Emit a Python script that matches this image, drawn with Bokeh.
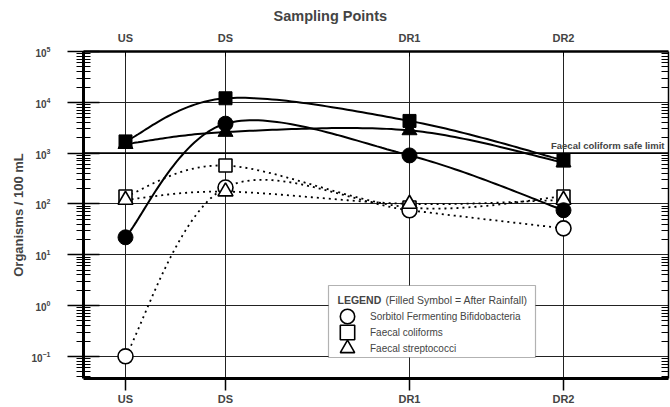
import numpy as np
from bokeh.plotting import figure
from bokeh.models import (Range1d, FixedTicker, LinearAxis, LogAxis, CustomJSTickFormatter,
                          LogTickFormatter, Legend, LegendItem, Label, BoxAnnotation, Span)
from bokeh.embed import file_html
from bokeh.resources import INLINE

# ---------------- data ----------------
sites = ["US", "DS", "DR1", "DR2"]
site_pos = [0.0, 1.0, 2.84, 4.38]          # relative distance along the river

# open symbols = before rainfall, filled symbols = after rainfall
sfb_before = [0.1, 210, 75, 33]             # Sorbitol Fermenting Bifidobacteria
sfb_after = [22, 3800, 900, 75]
fc_before = [140, 570, 85, 140]             # Faecal coliforms
fc_after = [1700, 12000, 4300, 720]
fs_before = [120, 175, 100, 120]            # Faecal streptococci
fs_after = [1500, 2600, 2800, 650]

safe_limit = 1000
safe_label = "Faecal coliform safe limit"

y_major = [10.0 ** e for e in range(-1, 6)]
y_minor = [m * 10.0 ** e for e in range(-2, 5) for m in range(2, 10)]

FONT = "Liberation Sans"


def smooth(values, n=40):
    """Catmull-Rom style smoothing (Bezier) through the points in log space."""
    P = np.column_stack([np.asarray(site_pos, float), np.log10(values)])
    k = len(P)
    t = np.linspace(0, 1, n)[:, None]
    out = []
    for i in range(k - 1):
        p0 = P[max(i - 1, 0)]
        p1 = P[i]
        p2 = P[i + 1]
        p3 = P[min(i + 2, k - 1)]
        c1 = p1 + (p2 - p0) / 6
        c2 = p2 - (p3 - p1) / 6
        seg = ((1 - t) ** 3) * p1 + 3 * ((1 - t) ** 2) * t * c1 + 3 * (1 - t) * (t ** 2) * c2 + (t ** 3) * p2
        out.append(seg if i == 0 else seg[1:])
    pts = np.vstack(out)
    return pts[:, 0], 10 ** pts[:, 1]


p = figure(width=670, height=407, output_backend="svg", toolbar_location=None,
           y_axis_type="log",
           x_range=Range1d(-0.42, 5.43), y_range=Range1d(0.0366, 1e5),
           min_border_left=83, min_border_right=2, min_border_top=51, min_border_bottom=29)
p.outline_line_color = None
p.background_fill_color = "white"

# title
p.title.text = "Sampling Points"
p.title.align = "left"
p.title.offset = 190
p.title.standoff = 9
p.title.text_font = FONT
p.title.text_font_size = "14.5px"
p.title.text_font_style = "bold"

site_fmt = CustomJSTickFormatter(args=dict(pos=site_pos, names=sites),
                                 code="const i = pos.indexOf(tick); return i >= 0 ? names[i] : '';")

# bottom axis
xa = p.xaxis[0]
xa.ticker = FixedTicker(ticks=site_pos)
xa.formatter = site_fmt
xa.axis_line_width = 3
xa.major_tick_out = 12
xa.major_tick_in = 0
xa.major_tick_line_width = 1.5
xa.minor_tick_line_color = None
xa.major_label_standoff = 2
xa.axis_label_standoff = 0
xa.major_label_text_font = FONT
xa.major_label_text_font_style = "bold"
xa.major_label_text_font_size = "11px"

# top axis
top = LinearAxis(ticker=FixedTicker(ticks=site_pos), formatter=site_fmt)
top.axis_line_width = 2.5
top.major_tick_out = 0
top.major_tick_in = 5
top.minor_tick_line_color = None
top.major_label_standoff = 8
top.axis_label_standoff = 0
top.major_label_text_font = FONT
top.major_label_text_font_style = "bold"
top.major_label_text_font_size = "11px"
p.add_layout(top, "above")

# left axis
ya = p.yaxis[0]
ya.ticker = FixedTicker(ticks=y_major, minor_ticks=y_minor)
ya.formatter = LogTickFormatter()
ya.axis_line_width = 3
ya.major_tick_out = 16
ya.major_tick_in = 16
ya.major_tick_line_width = 1.5
ya.minor_tick_out = 7
ya.minor_tick_in = 7
ya.minor_tick_line_width = 1.2
ya.major_label_standoff = 17
ya.major_label_text_font = FONT
ya.major_label_text_font_style = "bold"
ya.major_label_text_font_size = "10px"
ya.axis_label = "Organisms / 100 mL"
ya.axis_label_text_font = FONT
ya.axis_label_text_font_style = "bold"
ya.axis_label_text_font_size = "13px"
ya.axis_label_standoff = 2

# right axis (ticks only)
ra = LogAxis(ticker=FixedTicker(ticks=y_major, minor_ticks=y_minor),
             formatter=CustomJSTickFormatter(code="return '';"))
ra.axis_line_width = 1.5
ra.major_tick_out = 0
ra.major_tick_in = 0
ra.minor_tick_out = 0
ra.minor_tick_in = 7
ra.minor_tick_line_width = 1.2
ra.major_label_standoff = 0
ra.axis_label_standoff = 0
ra.major_label_text_font_size = "1px"
p.add_layout(ra, "right")

# grids
p.xgrid.ticker = FixedTicker(ticks=site_pos)
p.xgrid.grid_line_color = "#222222"
p.xgrid.grid_line_width = 1
p.ygrid.ticker = FixedTicker(ticks=y_major)
p.ygrid.grid_line_color = "#222222"
p.ygrid.grid_line_width = 1.2

# safe limit
p.add_layout(Span(location=safe_limit, dimension="width", line_color="black", line_width=1.8))
p.add_layout(Label(x=5.43, y=safe_limit, text=safe_label, text_align="right", text_baseline="bottom",
                   x_offset=-4, y_offset=2, text_font=FONT, text_font_style="bold",
                   text_font_size="9.5px"))

# curves
for vals in (sfb_before, fc_before, fs_before):
    xs, ys = smooth(vals)
    p.line(xs, ys, line_color="black", line_width=1.8, line_dash="2 4")
for vals in (sfb_after, fc_after, fs_after):
    xs, ys = smooth(vals)
    p.line(xs, ys, line_color="black", line_width=2)

# open markers (before rainfall)
r_fc_o = p.scatter(site_pos, fc_before, marker="square", size=13, fill_color="white",
                   line_color="black", line_width=1.6)
r_sfb_o = p.scatter(site_pos, sfb_before, marker="circle", size=15, fill_color="white",
                    line_color="black", line_width=1.6)
r_fs_o = p.scatter(site_pos, fs_before, marker="triangle", size=15, fill_color="white",
                   line_color="black", line_width=1.6)
# filled markers (after rainfall)
p.scatter(site_pos, fs_after, marker="triangle", size=15, fill_color="black", line_color="black")
p.scatter(site_pos, sfb_after, marker="circle", size=15, fill_color="black", line_color="black")
p.scatter(site_pos, fc_after, marker="square", size=13, fill_color="black", line_color="black")

# legend box + title
p.add_layout(BoxAnnotation(left=245, right=452, bottom=21, top=93,
                           left_units="screen", right_units="screen",
                           bottom_units="screen", top_units="screen",
                           fill_color="white", fill_alpha=1, line_color="black", line_width=1.2))
p.add_layout(Label(x=254, y=79, x_units="screen", y_units="screen", text="LEGEND",
                   text_baseline="middle", text_font=FONT, text_font_style="bold",
                   text_font_size="10.5px"))
p.add_layout(Label(x=302, y=79, x_units="screen", y_units="screen",
                   text="(Filled Symbol = After Rainfall)",
                   text_baseline="middle", text_font=FONT, text_font_size="10.5px"))

legend_items = [("Sorbitol Fermenting Bifidobacteria", r_sfb_o, 44),
                ("Faecal coliforms", r_fc_o, 28),
                ("Faecal streptococci", r_fs_o, 12)]
for label, rend, ybot in legend_items:
    lg = Legend(items=[LegendItem(label=label, renderers=[rend])],
                location=(246, ybot), glyph_width=36, glyph_height=36, spacing=0,
                padding=0, margin=0, label_standoff=5,
                border_line_alpha=0, background_fill_alpha=0,
                label_text_font=FONT, label_text_font_size="10px")
    p.add_layout(lg)

open("out.html", "w").write(file_html(p, INLINE))
